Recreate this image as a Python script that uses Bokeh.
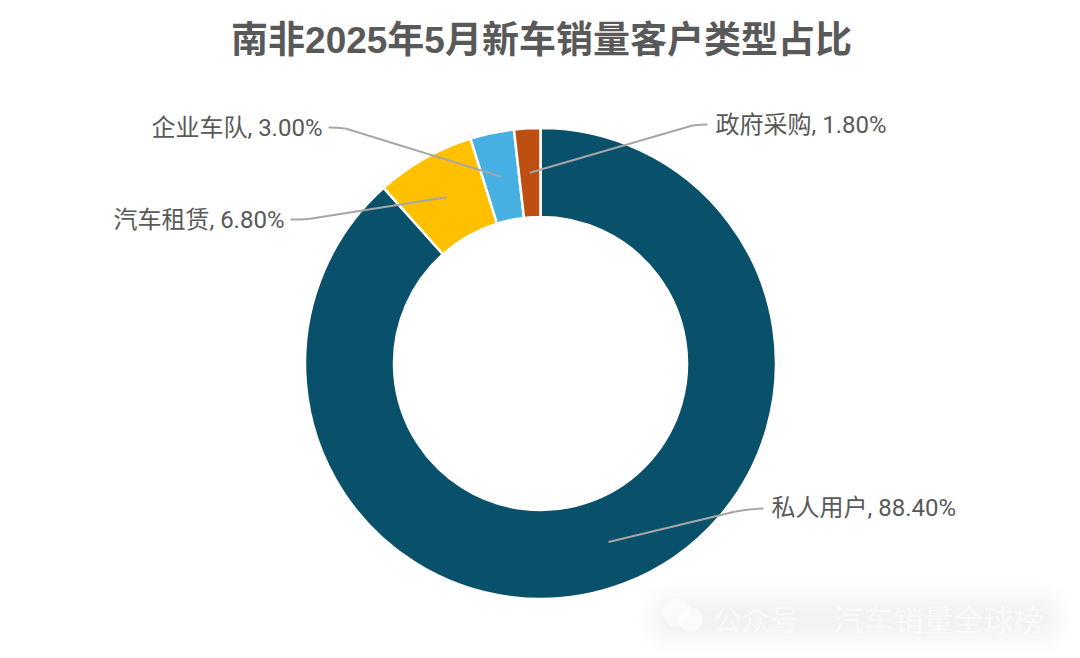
import numpy as np
from bokeh.plotting import figure
from bokeh.models import BoxAnnotation
from bokeh.core.properties import value
from bokeh.embed import file_html
from bokeh.resources import INLINE

title_text = "南非2025年5月新车销量客户类型占比"
categories = ["私人用户", "汽车租赁", "企业车队", "政府采购"]
shares = [88.40, 6.80, 3.00, 1.80]
colors = ["#09506A", "#FFC000", "#47B0E2", "#BE4F12"]

# page pixel -> data helpers (data unit = 1 px, origin at donut centre)
CX, CY = 540, 363
def X(px): return px - CX
def Y(py): return CY - py

W, H = 1080, 658
p = figure(width=W, height=H, x_range=(X(0), X(W)), y_range=(Y(H), Y(0)),
           output_backend="svg", toolbar_location=None, min_border=0,
           outline_line_color=None, background_fill_color="white")
p.axis.visible = False
p.grid.visible = False

# watermark glow
for i in range(12):
    inset = i * 2.5
    p.add_layout(BoxAnnotation(left=X(638 + inset), right=X(1072 - inset),
                               top=Y(582 + inset), bottom=Y(654 - inset),
                               fill_color="#808080", fill_alpha=0.008,
                               line_color=None, level="underlay",
                               border_radius=30 - 2 * i))

# donut
R_OUT, R_IN, R_MID = 235.5, 146.5, 191
fr = np.array(shares) / sum(shares)
cum = np.concatenate([[0], np.cumsum(fr)])
start = np.pi / 2 - 2 * np.pi * cum[1:]
end = np.pi / 2 - 2 * np.pi * cum[:-1]
p.annular_wedge(x=0, y=0, inner_radius=R_IN, outer_radius=R_OUT,
                start_angle=start, end_angle=end, fill_color=colors,
                line_color="white", line_width=2.5)

# leader lines: start at the slice's mid radius, bend, then end at the label
mid = 2 * np.pi * (cum[:-1] + cum[1:]) / 2
sx = R_MID * np.sin(mid)
sy = R_MID * np.cos(mid)
bend_x = [X(735), X(308), X(345), X(692)]
bend_y = [Y(511), Y(218.5), Y(128), Y(125)]
ctrl_x = [X(752), X(300), X(337), X(700)]
ctrl_y = [Y(508), Y(219), Y(127), Y(124)]
tip_x = [X(763), X(290), X(328), X(707)]
tip_y = [Y(508), Y(219), Y(127), Y(124)]
LEAD = "#A6A6A6"
p.segment(x0=sx, y0=sy, x1=bend_x, y1=bend_y, line_color=LEAD, line_width=2)
p.quadratic(x0=bend_x, y0=bend_y, x1=tip_x, y1=tip_y, cx=ctrl_x, cy=ctrl_y,
            line_color=LEAD, line_width=2)

# labels
labels = [f"{c}, {v:.2f}%" for c, v in zip(categories, shares)]
lab_x = [X(771), X(284), X(322), X(715)]
lab_y = [Y(507), Y(219), Y(127), Y(124)]
aligns = ["left", "right", "right", "left"]
FONT = "Roboto, 'Noto Sans CJK SC', sans-serif"
p.text(x=lab_x, y=lab_y, text=labels, text_align=aligns, text_baseline="middle",
       text_font=value(FONT), text_font_size="24px", text_color="#595959")

# title
p.text(x=[X(541)], y=[Y(39.5)], text=[title_text], text_align="center",
       text_baseline="middle", text_font=value("'Liberation Sans', 'Noto Sans CJK SC', sans-serif"),
       text_font_style="bold", text_font_size="37px", text_color="#595959")

# watermark text and icon
p.circle(x=[X(676), X(690)], y=[Y(612), Y(619)], radius=[14, 12],
         fill_color="white", fill_alpha=0.55, line_color=None)
p.text(x=[X(712)], y=[Y(617)], text=["公众号"], text_baseline="middle",
       text_font=value("'Noto Sans CJK SC'"), text_font_size="29px",
       text_color="white", text_alpha=0.55)
p.text(x=[X(833)], y=[Y(617)], text=["汽车销量全球榜"], text_baseline="middle",
       text_font=value("'Noto Sans CJK SC'"), text_font_size="30px",
       text_color="white", text_alpha=0.55)

open("out.html", "w").write(file_html(p, INLINE))
